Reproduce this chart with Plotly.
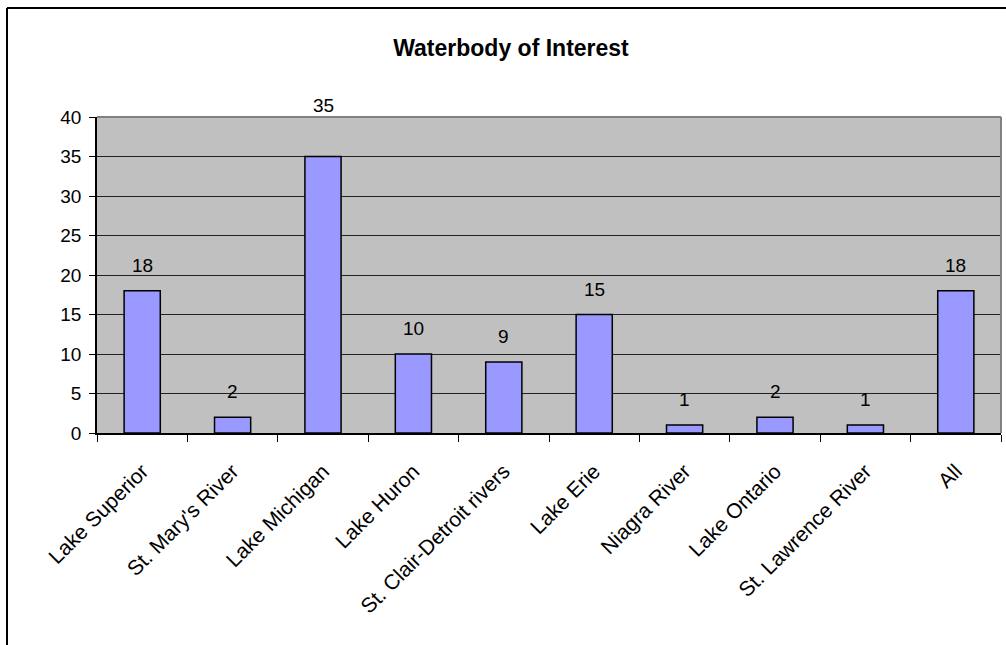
import plotly.graph_objects as go

# Survey responses per waterbody
waterbodies = [
    "Lake Superior", "St. Mary's River", "Lake Michigan", "Lake Huron",
    "St. Clair-Detroit rivers", "Lake Erie", "Niagra River", "Lake Ontario",
    "St. Lawrence River", "All",
]
counts = [18, 2, 35, 10, 9, 15, 1, 2, 1, 18]
y_ticks = [0, 5, 10, 15, 20, 25, 30, 35, 40]

FONT = "Liberation Sans, Arial"
W, H = 1006, 645
L, R, T, B = 97, 5, 117, 212
plot_w = W - L - R
plot_h = H - T - B

fig = go.Figure(
    go.Bar(
        x=waterbodies,
        y=counts,
        marker=dict(color="#9999FF", line=dict(color="black", width=1.5)),
        hoverinfo="x+y",
    )
)

# Value labels floating above each bar (the tallest one sits above the frame)
for name, val in zip(waterbodies, counts):
    shift = 39 if val == max(counts) else 13
    fig.add_annotation(
        x=name, y=val, text=str(val), showarrow=False,
        xanchor="center", yanchor="bottom", yshift=shift,
        font=dict(family=FONT, size=19, color="black"),
    )

# Outer chart frame (left/top edges visible, right/bottom run off the page)
fx0 = (7 - L) / plot_w
fy1 = (H - B - 8) / plot_h
fig.add_shape(type="line", xref="paper", yref="paper",
              x0=fx0, x1=(W + 20 - L) / plot_w, y0=fy1, y1=fy1,
              line=dict(color="black", width=2))
fig.add_shape(type="line", xref="paper", yref="paper",
              x0=fx0, x1=fx0, y0=fy1, y1=-(B + 20) / plot_h,
              line=dict(color="black", width=2))

# Grey plot-area border on top and right
fig.add_shape(type="line", xref="paper", yref="paper",
              x0=0, x1=1, y0=1, y1=1, line=dict(color="#808080", width=2), layer="above")
fig.add_shape(type="line", xref="paper", yref="paper",
              x0=1, x1=1, y0=0, y1=1, line=dict(color="#808080", width=2), layer="above")

fig.update_layout(
    width=W, height=H,
    margin=dict(l=L, r=R, t=T, b=B, pad=0),
    paper_bgcolor="white",
    plot_bgcolor="#C0C0C0",
    bargap=0.6,
    showlegend=False,
    font=dict(family=FONT, size=19, color="black"),
    title=dict(
        text="<b>Waterbody of Interest</b>",
        x=511 / W, xanchor="center",
        y=1 - 48 / H, yanchor="middle",
        font=dict(family=FONT, size=23, color="black"),
    ),
)

fig.update_xaxes(
    type="category",
    tickangle=-45,
    tickson="boundaries",
    ticks="outside", ticklen=7, tickcolor="black", tickwidth=1,
    ticklabelstandoff=16,
    showline=True, linecolor="black", linewidth=1.5,
    showgrid=False,
    tickfont=dict(family=FONT, size=21),
)
fig.update_yaxes(
    range=[0, 40],
    tickmode="array", tickvals=y_ticks,
    ticks="outside", ticklen=6, tickcolor="black", tickwidth=1,
    ticklabelstandoff=4,
    showline=True, linecolor="black", linewidth=1.5,
    showgrid=True, gridcolor="#222222", gridwidth=1,
    zeroline=False,
    tickfont=dict(family=FONT, size=19),
)

fig.write_html("out.html")
